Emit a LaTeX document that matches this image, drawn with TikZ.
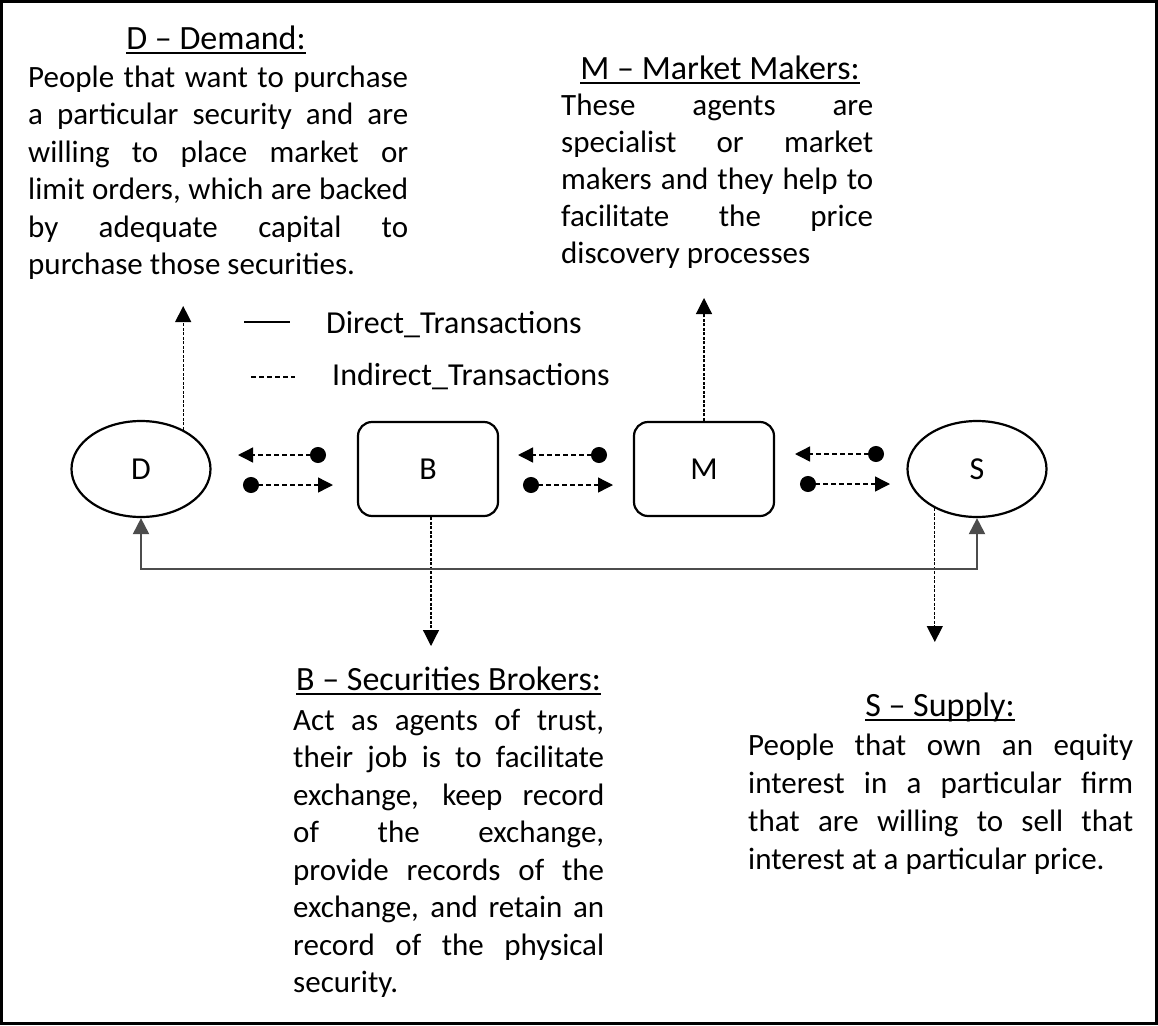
\documentclass[tikz,border=0pt]{standalone}
\usepackage{fontspec}
\setmainfont{Carlito}
\usetikzlibrary{arrows.meta,shapes.geometric}
\newsavebox\ulbox
\newcommand{\ulh}[1]{\sbox\ulbox{#1}\rlap{\rule[-5pt]{\wd\ulbox}{2pt}}\usebox\ulbox}
\newcommand{\jl}[2]{\makebox[#1][s]{#2}}
\tikzset{
  headtxt/.style={font=\fontsize{34}{40}\selectfont, anchor=base, inner sep=0pt},
  bodyline/.style={font=\fontsize{31}{37}\selectfont, anchor=base west, inner sep=0pt},
  legtxt/.style={font=\fontsize{32}{38}\selectfont, anchor=base west, inner sep=0pt},
  ellnode/.style={ellipse, draw, line width=2.2pt, minimum width=139pt, minimum height=96pt, inner sep=0pt, font=\fontsize{32}{38}\selectfont},
  boxnode/.style={rectangle, rounded corners=14pt, draw, line width=2.2pt, minimum width=140pt, minimum height=94pt, inner sep=0pt, font=\fontsize{32}{38}\selectfont},
  flow/.style={line width=1.4pt, dash pattern=on 5pt off 3pt, {Circle[length=16pt]}-{Triangle[length=15pt,width=15pt]}},
  info/.style={line width=1.2pt, dash pattern=on 3pt off 1.5pt, -{Triangle[length=16pt,width=16pt]}},
  direct/.style={line width=2pt, draw=black!70, {Triangle[length=16pt,width=16pt]}-{Triangle[length=16pt,width=16pt]}},
  legsolid/.style={line width=1.5pt},
  legdash/.style={line width=1.2pt, dash pattern=on 5pt off 3pt},
}
\begin{document}
\begin{tikzpicture}[x=1pt,y=-1pt]
\useasboundingbox (0,0) rectangle (1158,1025);
\draw[line width=2.5pt] (1.5,1.5) rectangle (1156.5,1023.5);

% main nodes
\node[ellnode] (D) at (141,469) {D};
\node[boxnode] (B) at (428,469) {B};
\node[boxnode] (M) at (704,469) {M};
\node[ellnode] (S) at (977,469) {S};

% legend
\coordinate (ls1) at (244,322); \coordinate (ls2) at (290,322);
\coordinate (ld1) at (251,377); \coordinate (ld2) at (295,377);
\draw[legsolid] (ls1) -- (ls2);
\draw[legdash] (ld1) -- (ld2);
\node[legtxt] (lgd) at (326,333) {Direct\_Transactions};
\node[legtxt] (lgi) at (332,385) {Indirect\_Transactions};

% flow arrows between nodes
\coordinate (db1s) at (326,455); \coordinate (db1e) at (238,455);
\coordinate (db2s) at (243,485); \coordinate (db2e) at (333,485);
\coordinate (bm1s) at (607,455); \coordinate (bm1e) at (518,455);
\coordinate (bm2s) at (523,485); \coordinate (bm2e) at (613,485);
\coordinate (ms1s) at (884,454); \coordinate (ms1e) at (795,454);
\coordinate (ms2s) at (800,484); \coordinate (ms2e) at (890,484);
\draw[flow] (db1s) -- (db1e);
\draw[flow] (db2s) -- (db2e);
\draw[flow] (bm1s) -- (bm1e);
\draw[flow] (bm2s) -- (bm2e);
\draw[flow] (ms1s) -- (ms1e);
\draw[flow] (ms2s) -- (ms2e);

% vertical info arrows
\coordinate (dtip) at (0,306);
\coordinate (mtip) at (0,298);
\coordinate (btip) at (0,646);
\coordinate (stip) at (0,642);
\draw[info] (D.43.6) -- (D.43.6 |- dtip);
\draw[info] (M.north) -- (M.north |- mtip);
\draw[info] ([xshift=3pt]B.south) -- ([xshift=3pt]B.south |- btip);
\draw[info] (S.223.6) -- (S.223.6 |- stip);

% direct transaction connector
\coordinate (base) at (0,569);
\draw[direct] (D.south) -- (D.south |- base) -| (S.south);

% D text
\node[headtxt] (dh) at (216,49) {\ulh{D – Demand:}};
\node[bodyline] (d1) at (28,87) {\jl{380pt}{People that want to purchase}};
\node[bodyline] (d2) at (28,124.5) {\jl{380pt}{a particular security and are}};
\node[bodyline] (d3) at (28,162) {\jl{380pt}{willing to place market or}};
\node[bodyline] (d4) at (28,199.5) {\jl{380pt}{limit orders, which are backed}};
\node[bodyline] (d5) at (28,237) {\jl{380pt}{by adequate capital to}};
\node[bodyline] (d6) at (28,274.5) {purchase those securities.};

% M text
\node[headtxt] (mh) at (720,79) {\ulh{M – Market Makers:}};
\node[bodyline] (m1) at (561,115) {\jl{312pt}{These agents are}};
\node[bodyline] (m2) at (561,152) {\jl{312pt}{specialist or market}};
\node[bodyline] (m3) at (561,189) {\jl{312pt}{makers and they help to}};
\node[bodyline] (m4) at (561,226) {\jl{312pt}{facilitate the price}};
\node[bodyline] (m5) at (561,263) {discovery processes};

% B text
\node[headtxt] (bh) at (448.5,690) {\ulh{B – Securities Brokers:}};
\node[bodyline] (b1) at (293,730) {\jl{311pt}{Act as agents of trust,}};
\node[bodyline] (b2) at (293,767.5) {\jl{311pt}{their job is to facilitate}};
\node[bodyline] (b3) at (293,805) {\jl{311pt}{exchange, keep record}};
\node[bodyline] (b4) at (293,842.5) {\jl{311pt}{of the exchange,}};
\node[bodyline] (b5) at (293,880) {\jl{311pt}{provide records of the}};
\node[bodyline] (b6) at (293,917.5) {\jl{311pt}{exchange, and retain an}};
\node[bodyline] (b7) at (293,955) {\jl{311pt}{record of the physical}};
\node[bodyline] (b8) at (293,992.5) {security.};

% S text
\node[headtxt] (sh) at (940,716) {\ulh{S – Supply:}};
\node[bodyline] (s1) at (748,755) {\jl{385pt}{People that own an equity}};
\node[bodyline] (s2) at (748,793) {\jl{385pt}{interest in a particular firm}};
\node[bodyline] (s3) at (748,831) {\jl{385pt}{that are willing to sell that}};
\node[bodyline] (s4) at (748,869) {interest at a particular price.};
\end{tikzpicture}
\end{document}
